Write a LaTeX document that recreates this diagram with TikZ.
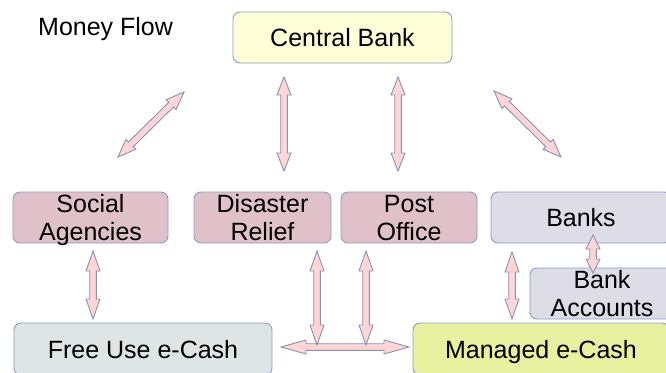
\documentclass[tikz,border=0pt]{standalone}
\usepackage{fontspec}
\setmainfont{Liberation Sans}
\usetikzlibrary{calc}
\definecolor{bordc}{HTML}{8C9CC0}
\definecolor{arrc}{HTML}{8891B5}
\definecolor{arrf}{HTML}{FFD5D5}
\definecolor{cbf}{HTML}{FFFFD7}
\definecolor{mauve}{HTML}{E0C1C9}
\definecolor{lav}{HTML}{DDDCE7}
\definecolor{freef}{HTML}{DDE5E5}
\definecolor{manf}{HTML}{E7F1A0}
\newcommand\dblarr[3][18]{%
  \draw[arr] (#2) -- ($(#2)!#1pt!(#3)!7pt!90:(#3)$) -- ($(#2)!#1pt!(#3)!3.3pt!90:(#3)$)
   -- ($(#3)!#1pt!(#2)!3.3pt!-90:(#2)$) -- ($(#3)!#1pt!(#2)!7pt!-90:(#2)$) -- (#3)
   -- ($(#3)!#1pt!(#2)!7pt!90:(#2)$) -- ($(#3)!#1pt!(#2)!3.3pt!90:(#2)$)
   -- ($(#2)!#1pt!(#3)!3.3pt!-90:(#3)$) -- ($(#2)!#1pt!(#3)!7pt!-90:(#3)$) -- cycle;}
\begin{document}
\begin{tikzpicture}[x=1pt,y=-1pt,
  box/.style={draw=bordc, line width=0.9pt, rounded corners=7pt, inner sep=0pt,
    font=\fontsize{25}{28}\selectfont, align=center, text depth=0pt},
  arr/.style={draw=arrc, fill=arrf, line width=0.9pt, line join=miter}]
\useasboundingbox (0,0) rectangle (666,372);
\node[font=\fontsize{25}{28}\selectfont, inner sep=0pt, anchor=base west] (title) at (38,35) {Money Flow};
\node[box, fill=cbf, minimum width=219, minimum height=51] (central) at (342.5,37.5) {Central Bank};
\node[box, fill=mauve, minimum width=155, minimum height=51] (social) at (90.5,217.5) {Social\\Agencies};
\node[box, fill=mauve, minimum width=137, minimum height=51] (disaster) at (262.5,217.5) {Disaster\\Relief};
\node[box, fill=mauve, minimum width=136, minimum height=51] (post) at (409,217.5) {Post\\Office};
\node[box, fill=lav, minimum width=180, minimum height=51] (banks) at (581,217.5) {Banks};
\node[box, fill=lav, minimum width=144, minimum height=51] (bankacc) at (602,293.5) {Bank\\Accounts};
\node[box, fill=freef, minimum width=258, minimum height=52] (free) at (143,349) {Free Use e-Cash};
\node[box, fill=manf, minimum width=256, minimum height=52] (managed) at (541,349) {Managed e-Cash};
% arrow end points
\coordinate (a1s) at (118,157); \coordinate (a1e) at (184,92);
\coordinate (a2s) at (284,77);  \coordinate (a2e) at (284,171);
\coordinate (a3s) at (398,77);  \coordinate (a3e) at (398,171);
\coordinate (a4s) at (494,91);  \coordinate (a4e) at (561,157);
\coordinate (b1s) at (93,251);  \coordinate (b1e) at (93,319);
\coordinate (b2s) at (317,251); \coordinate (b2e) at (317,345);
\coordinate (b3s) at (366,251); \coordinate (b3e) at (366,345);
\coordinate (b4s) at (281,347); \coordinate (b4e) at (409,347);
\coordinate (b5s) at (512,252); \coordinate (b5e) at (512,319);
\coordinate (b6s) at (593,235); \coordinate (b6e) at (593,273);
\dblarr{a1s}{a1e}
\dblarr{a2s}{a2e}
\dblarr{a3s}{a3e}
\dblarr{a4s}{a4e}
\dblarr[20]{b1s}{b1e}
\dblarr[25]{b4s}{b4e}
\dblarr[20]{b2s}{b2e}
\dblarr[20]{b3s}{b3e}
\dblarr[20]{b5s}{b5e}
\dblarr[14]{b6s}{b6e}
\end{tikzpicture}
\end{document}
